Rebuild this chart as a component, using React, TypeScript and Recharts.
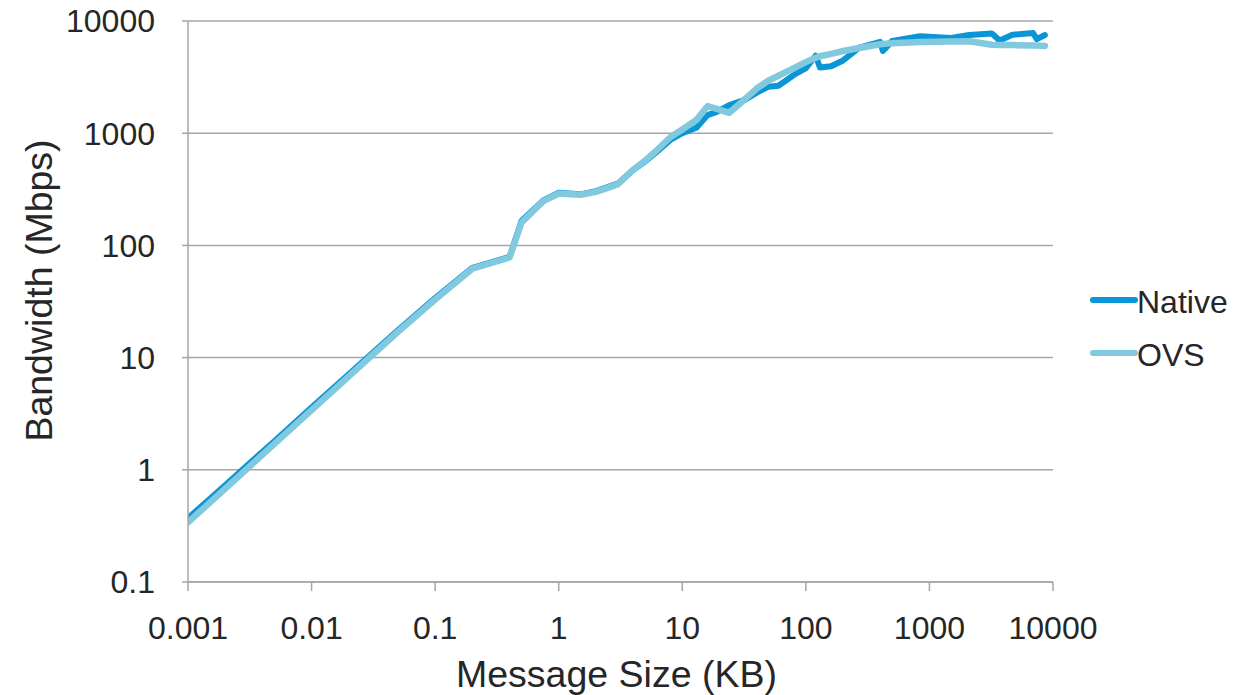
import React from 'react';
import { LineChart, Line, XAxis, YAxis, CartesianGrid, Legend, Label } from 'recharts';

// Message sizes (KB)
const sizes = [
  0.001, 0.002, 0.005, 0.01, 0.02, 0.05, 0.1, 0.2, 0.4, 0.5, 0.75, 1, 1.5, 2, 3, 4, 5, 6, 8, 10,
  13, 16, 19, 24, 32, 40, 50, 60, 80, 100, 120, 130, 160, 200, 270, 400, 420, 500, 840, 1500,
  2100, 3200, 3700, 4700, 6900, 7400, 8600,
];

// Bandwidth (Mbps)
const nativeBw = [
  0.37, 0.73, 1.8, 3.6, 7.1, 17.5, 34, 63, 79, 165, 252, 295, 285, 305, 355, 470, 560, 660, 870, 1000,
  1120, 1450, 1550, 1780, 1980, 2300, 2600, 2650, 3300, 3800, 4900, 3850, 3950, 4450, 5800, 6500, 5400, 6650, 7300, 7050,
  7500, 7750, 6700, 7550, 7800, 6900, 7500,
];

const ovsBw = [
  0.34, 0.68, 1.7, 3.4, 6.8, 17, 33, 62, 78, 160, 248, 290, 283, 300, 350, 470, 570, 680, 920, 1080,
  1310, 1740, 1650, 1520, 2000, 2500, 2950, 3250, 3800, 4300, 4700, 4850, 5100, 5400, 5750, 6200, 6250, 6350, 6500, 6550,
  6600, 6150, 6100, 6100, 6050, 6050, 6000,
];

const xTicks = [0.001, 0.01, 0.1, 1, 10, 100, 1000, 10000];
const yTicks = [0.1, 1, 10, 100, 1000, 10000];
const seriesNames = ['Native', 'OVS'];
const seriesColors = ['#0A95D6', '#80C9DE'];

const data = sizes.map((s, i) => ({ size: s, native: nativeBw[i], ovs: ovsBw[i] }));

const FONT = '"Liberation Sans", Arial, Helvetica, sans-serif';
const TEXT = '#262626';
const GRID = '#a6a6a6';

const renderLegend = (props: any) => {
  const payload = props.payload || [];
  return (
    <svg width={170} height={110} style={{ display: 'block' }}>
      {payload.map((p: any, i: number) => {
        const ly = 22 + i * 53;
        return (
          <g key={i}>
            <line x1={3} x2={45} y1={ly} y2={ly} stroke={p.color} strokeWidth={6} strokeLinecap="round" />
            <text x={47} y={ly + 13} fontFamily={FONT} fontSize={32} fill={TEXT}>
              {p.value}
            </text>
          </g>
        );
      })}
    </svg>
  );
};

export default function App() {
  return (
    <div style={{ position: 'absolute', left: 0, top: 0, width: 1253, height: 695, overflow: 'hidden' }}>
      <LineChart
        width={1253}
        height={695}
        data={data}
        margin={{ top: 21, right: 200, bottom: 0, left: 0 }}
      >
        <CartesianGrid vertical={false} stroke={GRID} strokeWidth={1.5} />
        <XAxis
          dataKey="size"
          type="number"
          scale="log"
          domain={[0.001, 10000]}
          ticks={xTicks}
          allowDataOverflow
          height={113}
          tickSize={9}
          tickMargin={25}
          interval={0}
          axisLine={{ stroke: GRID, strokeWidth: 1.5 }}
          tickLine={{ stroke: GRID, strokeWidth: 1.5 }}
          tick={{ fill: TEXT, fontSize: 32, fontFamily: FONT }}
          tickFormatter={(v: number) => String(v)}
        >
          <Label
            value="Message Size (KB)"
            position="insideBottom"
            offset={8}
            dx={-4}
            style={{ fill: TEXT, fontSize: 37.5, fontFamily: FONT }}
          />
        </XAxis>
        <YAxis
          type="number"
          scale="log"
          domain={[0.1, 10000]}
          ticks={yTicks}
          allowDataOverflow
          width={188}
          tickSize={6}
          tickMargin={27}
          interval={0}
          axisLine={{ stroke: GRID, strokeWidth: 1.5 }}
          tickLine={{ stroke: GRID, strokeWidth: 1.5 }}
          tick={{ fill: TEXT, fontSize: 32, fontFamily: FONT }}
          tickFormatter={(v: number) => String(v)}
        >
          <Label
            content={(p: any) => {
              const vb = p.viewBox || { x: 0, y: 21, width: 188, height: 561 };
              const cx = vb.x + 52;
              const cy = vb.y + vb.height / 2 - 11;
              return (
                <text
                  x={cx}
                  y={cy}
                  transform={`rotate(-90 ${cx} ${cy})`}
                  textAnchor="middle"
                  fontFamily={FONT}
                  fontSize={37.5}
                  fill={TEXT}
                >
                  Bandwidth (Mbps)
                </text>
              );
            }}
          />
        </YAxis>
        <Legend
          layout="vertical"
          align="center"
          verticalAlign="middle"
          content={renderLegend}
          wrapperStyle={{ left: 1090, top: 278, width: 170, height: 110 }}
        />
        <Line
          type="linear"
          dataKey="native"
          name={seriesNames[0]}
          stroke={seriesColors[0]}
          strokeWidth={6}
          dot={false}
          strokeLinejoin="round"
          strokeLinecap="round"
          isAnimationActive={false}
        />
        <Line
          type="linear"
          dataKey="ovs"
          name={seriesNames[1]}
          stroke={seriesColors[1]}
          strokeWidth={6.5}
          dot={false}
          strokeLinejoin="round"
          strokeLinecap="round"
          isAnimationActive={false}
        />
      </LineChart>
    </div>
  );
}
